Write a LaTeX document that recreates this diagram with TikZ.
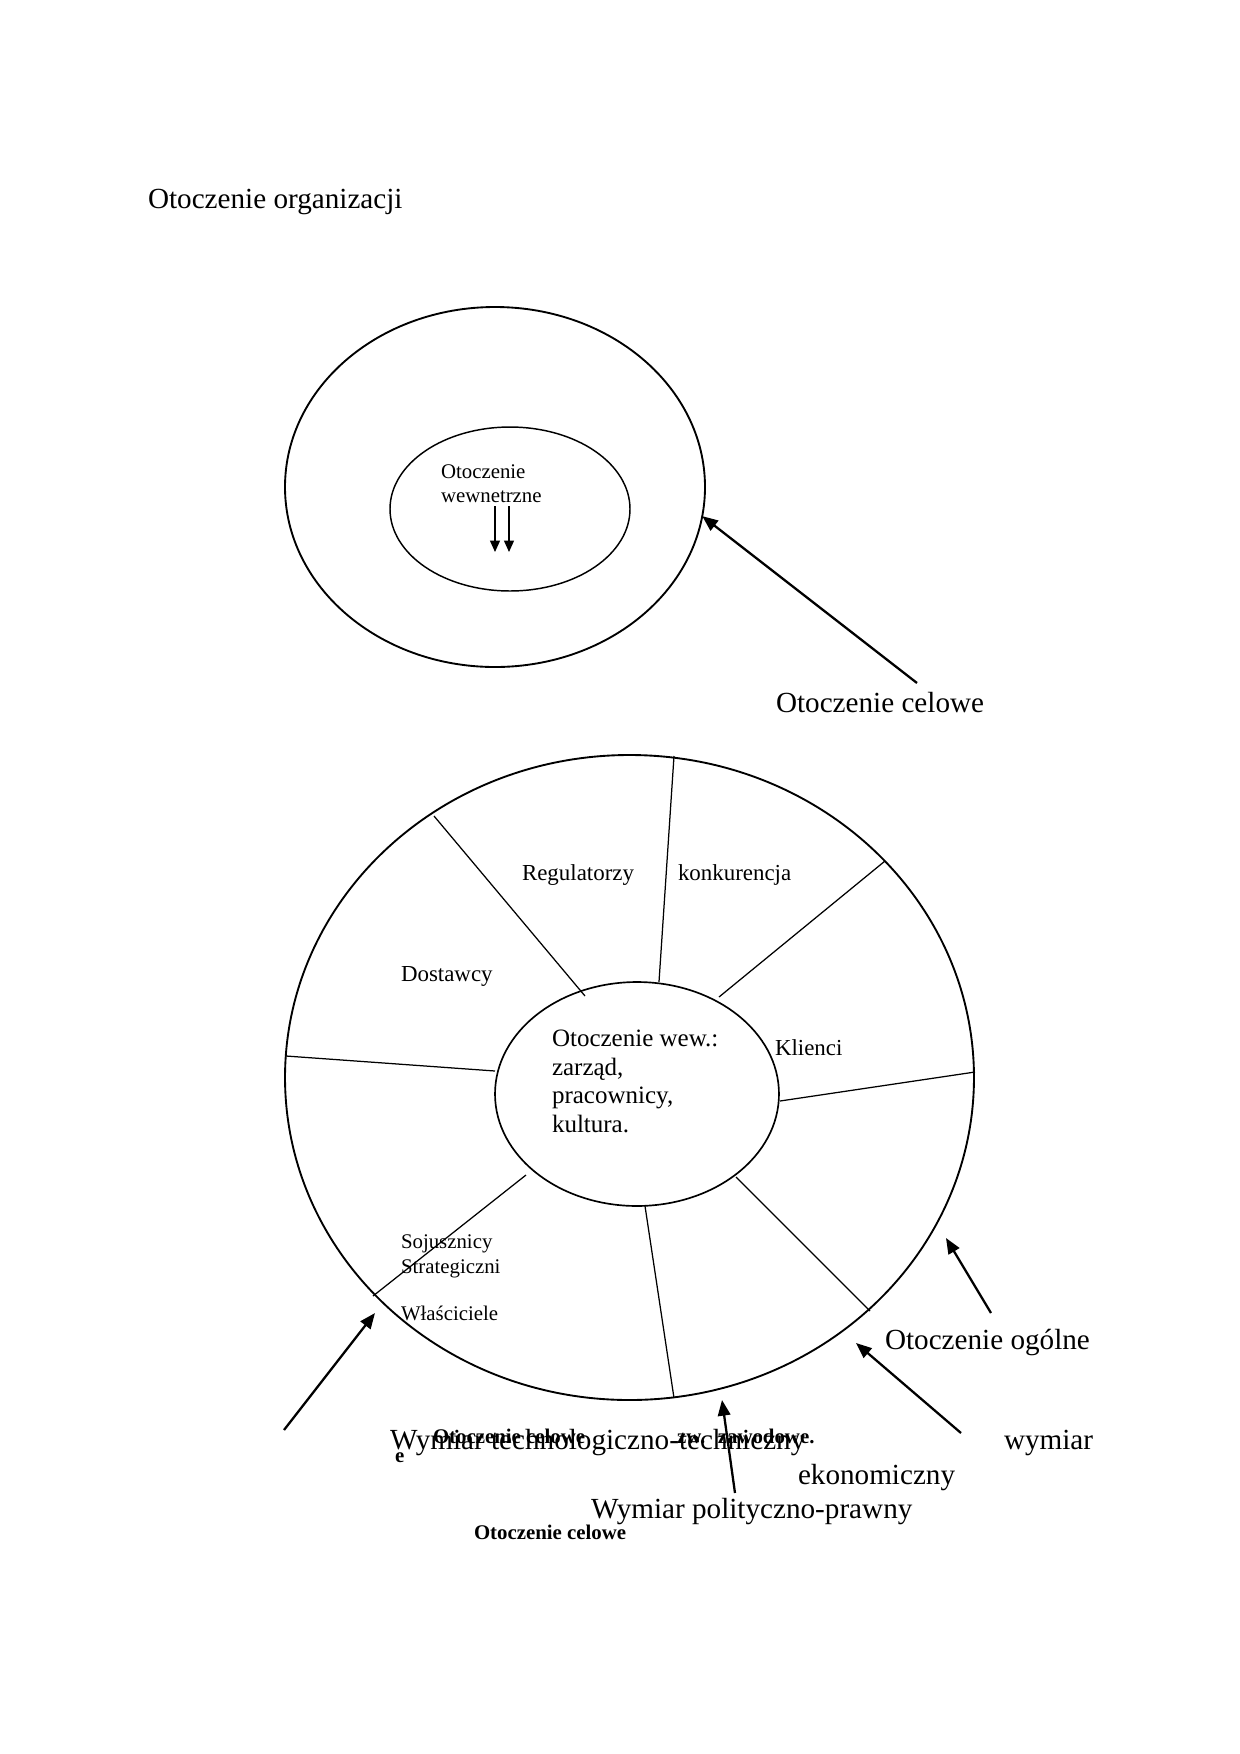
\documentclass[tikz,border=0pt]{standalone}
\usepackage{fontspec}
\setmainfont{Liberation Serif}
\usetikzlibrary{arrows.meta,shapes.geometric}
\begin{document}
\begin{tikzpicture}[x=0.48pt,y=-0.48pt,
  ring/.style={draw, ellipse, inner sep=0pt, outer sep=0pt, line width=0.9pt},
  thinring/.style={draw, ellipse, inner sep=0pt, outer sep=0pt, line width=0.7pt},
  spoke/.style={line width=0.6pt},
  bigarrow/.style={line width=1.1pt, -{Triangle[length=7.5pt,width=6pt]}},
  smallarrow/.style={line width=0.6pt, -{Triangle[length=5.5pt,width=4.8pt]}},
  lbl/.style={inner sep=0pt, outer sep=0pt, anchor=base west},
  fbig/.style={lbl, font=\fontsize{14}{16}\selectfont},
  fmid/.style={lbl, font=\fontsize{12}{14}\selectfont},
  fsec/.style={lbl, font=\fontsize{11}{13}\selectfont},
  fsmall/.style={lbl, font=\fontsize{10}{12}\selectfont},
  fbold/.style={lbl, font=\fontsize{10}{12}\selectfont\bfseries}
]
\useasboundingbox (0,0) rectangle (1240,1754);

% title
\node[fbig] (title) at (148,208) {Otoczenie organizacji};

% ---- top figure ----
\node[ring, minimum width=201.6pt, minimum height=172.8pt] (topOuter) at (495,487) {};
\node[thinring, minimum width=115.2pt, minimum height=78.7pt] (topInner) at (510,509) {};
\node[fsmall] (tw1) at (441,478) {Otoczenie};
\node[fsmall] (tw2) at (441,502) {wewnetrzne};
\coordinate (ia1s) at (495,506);
\coordinate (ia1e) at (495,552);
\coordinate (ia2s) at (509,506);
\coordinate (ia2e) at (509,552);
\draw[smallarrow] (ia1s) -- (ia1e);
\draw[smallarrow] (ia2s) -- (ia2e);

\coordinate (celTail) at (917,683);
\draw[bigarrow] (celTail) -- (topOuter.-8);
\node[fbig] (celLbl) at (776,712) {Otoczenie celowe};

% ---- bottom figure ----
\node[ring, minimum width=330.7pt, minimum height=309.6pt] (botOuter) at (629.5,1077.5) {};
\node[ring, line width=0.8pt, minimum width=136.3pt, minimum height=107.5pt] (botInner) at (637,1094) {};

% spokes
\coordinate (s1a) at (434,816);  \coordinate (s1b) at (585,996);
\coordinate (s2a) at (674,756);  \coordinate (s2b) at (659,982);
\coordinate (s3a) at (885,861);  \coordinate (s3b) at (719,997);
\coordinate (s4a) at (286,1056); \coordinate (s4b) at (495,1071);
\coordinate (s5a) at (975,1072); \coordinate (s5b) at (780,1101);
\coordinate (s6a) at (526,1175); \coordinate (s6b) at (373,1296);
\coordinate (s7a) at (645,1206); \coordinate (s7b) at (674,1398);
\coordinate (s8a) at (736,1177); \coordinate (s8b) at (870,1311);
\draw[spoke] (s1a) -- (s1b);
\draw[spoke] (s2a) -- (s2b);
\draw[spoke] (s3a) -- (s3b);
\draw[spoke] (s4a) -- (s4b);
\draw[spoke] (s5a) -- (s5b);
\draw[spoke] (s6a) -- (s6b);
\draw[spoke] (s7a) -- (s7b);
\draw[spoke] (s8a) -- (s8b);

% sector labels
\node[fsec] (reg) at (522,880) {Regulatorzy};
\node[fsec] (kon) at (678,880) {konkurencja};
\node[fsec] (dos) at (401,981) {Dostawcy};
\node[fsec] (kli) at (775,1055) {Klienci};
\node[fsmall] (soj1) at (401,1248) {Sojusznicy};
\node[fsmall] (soj2) at (401,1273) {Strategiczni};
\node[fsmall] (wla) at (401,1320) {Właściciele};

% centre text
\node[fmid] (c1) at (552,1046) {Otoczenie wew.:};
\node[fmid] (c2) at (552,1075) {zarząd,};
\node[fmid] (c3) at (552,1103) {pracownicy,};
\node[fmid] (c4) at (552,1132) {kultura.};

% arrows of the bottom figure
\coordinate (aLt) at (284,1430); \coordinate (aLh) at (375,1313);
\coordinate (aOt) at (991,1313); \coordinate (aOh) at (946,1238);
\coordinate (aEt) at (961,1433); \coordinate (aEh) at (856,1343);
\coordinate (aPt) at (735,1493); \coordinate (aPh) at (722,1400);
\draw[bigarrow] (aLt) -- (aLh);
\draw[bigarrow] (aOt) -- (aOh);
\draw[bigarrow] (aEt) -- (aEh);
\draw[bigarrow] (aPt) -- (aPh);

% bottom labels
\node[fbig] (ogol) at (885,1349) {Otoczenie ogólne};
\node[fbig] (tech) at (390,1449) {Wymiar technologiczno-techniczny};
\node[fbold] (oc1) at (433,1443) {Otoczenie celowe};
\node[fbold] (zw) at (677,1443) {zw.\hspace{6pt}zawodowe.};
\node[fbold] (ee) at (395,1462) {e};
\node[fbig] (wym) at (1004,1449) {wymiar};
\node[fbig] (eko) at (798,1484) {ekonomiczny};
\node[fbig] (pol) at (591,1518) {Wymiar polityczno-prawny};
\node[fbold] (oc2) at (474,1539) {Otoczenie celowe};
\end{tikzpicture}
\end{document}
